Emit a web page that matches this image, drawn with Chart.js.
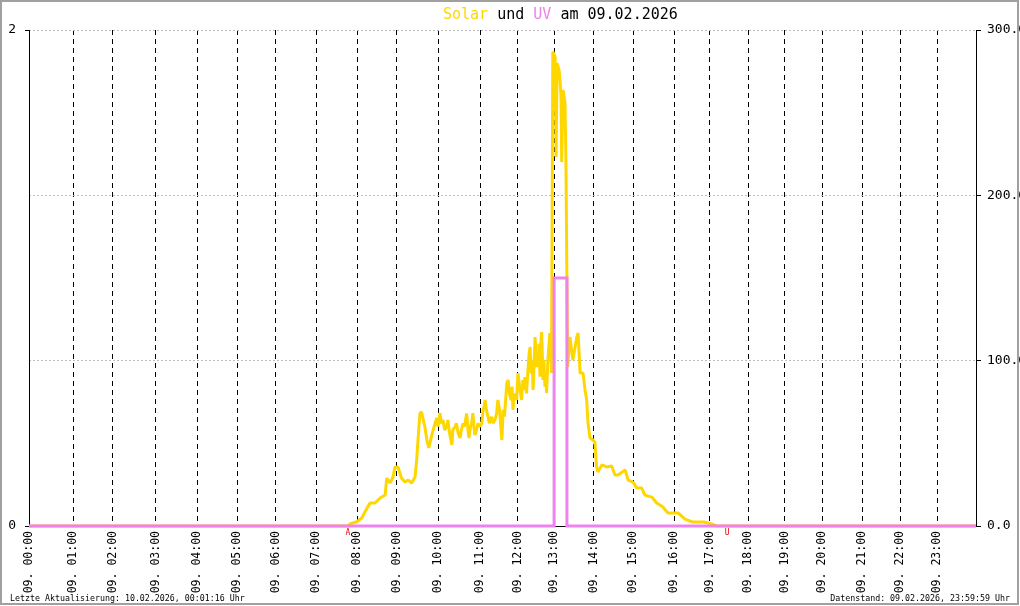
<!DOCTYPE html>
<html>
<head>
<meta charset="utf-8">
<script src="https://cdn.jsdelivr.net/npm/chart.js@4/dist/chart.umd.min.js"></script>
<style>
  html, body { margin: 0; padding: 0; background: #fff; }
  canvas { display: block; }
</style>
</head>
<body>
<canvas id="chart" width="1020" height="606"></canvas>
<script>
// Solar (W/m², rechte Achse) und UV-Index (linke Achse) vom 09.02.2026.
// Die x-Achse läuft über die Datensatznummer des Tages, nicht über die Uhrzeit:
// deshalb stehen die Stundenmarken nicht ganz gleichmäßig.
const recordCount = 288;

const hourLabels = [
    '09. 00:00', '09. 01:00', '09. 02:00', '09. 03:00', '09. 04:00', '09. 05:00',
    '09. 06:00', '09. 07:00', '09. 08:00', '09. 09:00', '09. 10:00', '09. 11:00',
    '09. 12:00', '09. 13:00', '09. 14:00', '09. 15:00', '09. 16:00', '09. 17:00',
    '09. 18:00', '09. 19:00', '09. 20:00', '09. 21:00', '09. 22:00', '09. 23:00'
];
const hourIdx = [
    0, 13.4, 25.5, 38.6, 51.1, 63.3, 75.1, 87.3, 99.8, 111.9, 124.4, 137.2,
    148.7, 159.7, 171.8, 183.8, 196.2, 207.1, 218.7, 229.9, 241.2, 253.4, 264.9, 276.2
];

const solarIdx = [
    0, 97.0, 97.6, 99.7, 101.2, 102.2, 103.7, 105.2, 106.8, 108.3, 108.8, 109.8,
    110.7, 111.3, 112.2, 113.3, 114.3, 115.3, 116.4, 117.4, 117.9, 118.3, 118.9, 119.4,
    120.4, 121.0, 121.6, 122.5, 123.5,
    124.0, 124.4, 125.0, 125.4, 125.9, 126.4, 127.0, 127.4, 127.9, 128.6, 128.9, 129.6,
    130.0, 130.5, 131.1, 131.5, 132.0, 132.4, 133.1, 133.5, 133.8, 134.3, 134.6, 135.0,
    135.3, 135.6, 136.1, 136.5, 137.2, 137.7, 138.1, 138.4, 138.7, 139.1, 139.6, 140.0,
    140.7, 141.1, 141.7, 142.2, 142.6, 143.1, 143.4, 143.8, 144.2, 144.6, 145.3, 145.7,
    146.1, 146.6, 146.9, 147.2, 147.6, 148.3, 148.7, 149.2, 149.5, 149.8, 150.2, 150.5,
    150.8, 151.3, 151.8, 152.1, 152.4, 152.7, 153.0, 153.3, 153.6, 153.9, 154.2, 154.5,
    154.8, 155.1, 155.4, 155.7, 155.9, 156.2, 156.3, 156.6, 156.9, 157.2, 157.4, 157.8,
    158.1, 158.4, 158.8, 158.9,
    159.3, 160.0, 160.3, 160.6, 161.2, 161.5, 161.8, 162.0, 162.4, 163.0, 163.3, 163.8,
    164.5, 165.4, 166.6, 167.0, 167.6, 168.5, 169.1, 169.6, 170.0, 170.6, 171.5, 172.1,
    172.6, 173.0, 174.2, 175.7, 177.2, 178.2, 179.1, 181.3, 182.2, 183.7, 184.8, 186.3,
    187.3, 189.4, 190.9, 192.8, 194.3, 197.4, 199.5, 201.9, 205.2, 207.6, 209.1, 288
];
const solarVal = [
    0, 0, 1.2, 2.6, 4.8, 8.6, 13.9, 13.9, 16.9, 18.7, 29.0, 26.0,
    29.6, 35.7, 35.7, 29.0, 26.6, 27.8, 26.0, 29.6, 39.9, 52.0, 68.3, 68.9,
    59.9, 52.0, 47.2, 55.0, 62.3,
    65.3, 60.1, 68.3, 62.1, 64.1, 58.1, 60.1, 64.1, 56.1, 49.0, 58.1, 60.1,
    62.1, 56.1, 53.2, 58.1, 62.1, 60.1, 68.1, 58.1, 53.2, 60.1, 62.1, 68.3,
    60.1, 55.0, 58.1, 62.1, 60.1, 62.1, 70.2, 72.2, 76.2, 70.2, 66.1, 62.1,
    66.1, 62.1, 64.1, 68.1, 76.2, 70.2, 62.1, 52.0, 70.2, 66.1, 86.3, 88.3,
    80.2, 76.2, 84.3, 70.2, 80.2, 76.2, 92.5, 84.3, 80.2, 76.2, 88.3, 82.3,
    90.1, 80.2, 96.2, 104.3, 108.3, 92.3, 100.4, 82.3, 96.2, 114.3, 104.3, 96.2,
    100.4, 110.3, 90.3, 112.3, 117.3, 98.3, 88.3, 100.4, 84.3, 92.3, 80.4, 100.4,
    108.3, 116.7, 100.4, 92.5,
    286.9, 283.8, 223.2, 280.0, 275.8, 269.7, 259.5, 220.1, 263.7, 256.4, 219.5, 96.2,
    114.3, 100.4, 114.3, 116.7, 92.5, 92.5, 82.3, 76.2, 62.3, 53.2, 52.0, 50.8,
    35.7, 32.7, 36.9, 35.7, 36.3, 30.8, 30.8, 33.9, 27.8, 26.6, 23.0, 23.0,
    18.7, 17.5, 13.9, 11.5, 7.9, 7.9, 4.2, 2.4, 2.4, 1.2, 0, 0
];

const uvIdx = [0, 159.7, 163.6, 288];
const uvVal = [0, 1, 0, 0];

// Sonnenaufgang (A) und -untergang (U)
const sunLabels = ['A', 'U'];
const sunIdx = [97.0, 212.3];

const GOLD = '#ffd700';
const VIOLET = '#ee82ee';
const MONO = '"DejaVu Sans Mono", monospace';

const decorations = {
    id: 'decorations',
    afterDraw(chart) {
        const ctx = chart.ctx;
        const x = chart.scales.x;
        ctx.save();

        // Titel in mehreren Farben
        const parts = [['Solar', GOLD], [' und ', '#000'], ['UV', VIOLET], [' am 09.02.2026', '#000']];
        ctx.font = '15px ' + MONO;
        ctx.textBaseline = 'alphabetic';
        ctx.textAlign = 'left';
        let tx = 443;
        parts.forEach(function (p) {
            ctx.fillStyle = p[1];
            ctx.fillText(p[0], tx, 19);
            tx += ctx.measureText(p[0]).width;
        });

        // Auf-/Untergang
        ctx.font = '8px ' + MONO;
        ctx.fillStyle = '#e00000';
        ctx.textAlign = 'center';
        sunLabels.forEach(function (l, i) {
            ctx.fillText(l, x.getPixelForValue(sunIdx[i]), chart.chartArea.bottom + 9);
        });

        // Fußzeile
        ctx.font = '8.3px ' + MONO;
        ctx.fillStyle = '#000';
        ctx.textAlign = 'left';
        ctx.fillText('Letzte Aktualisierung: 10.02.2026, 00:01:16 Uhr', 10, 601);
        ctx.textAlign = 'right';
        ctx.fillText('Datenstand: 09.02.2026, 23:59:59 Uhr', 1010, 601);

        // Rahmen
        ctx.strokeStyle = '#a0a0a0';
        ctx.lineWidth = 2;
        ctx.strokeRect(1, 1, 1017, 603);
        ctx.restore();
    }
};

new Chart(document.getElementById('chart'), {
    type: 'line',
    data: {
        datasets: [
            {
                label: 'UV',
                data: uvIdx.map(function (v, i) { return { x: v, y: uvVal[i] }; }),
                yAxisID: 'yUV',
                borderColor: VIOLET,
                borderWidth: 3,
                stepped: 'before',
                pointRadius: 0,
                clip: false
            },
            {
                label: 'Solar',
                data: solarIdx.map(function (v, i) { return { x: v, y: solarVal[i] }; }),
                yAxisID: 'ySolar',
                borderColor: GOLD,
                borderWidth: 3,
                borderJoinStyle: 'bevel',
                tension: 0,
                pointRadius: 0,
                clip: false
            }
        ]
    },
    options: {
        responsive: false,
        animation: false,
        devicePixelRatio: 1,
        layout: { padding: { top: 30, left: 0, right: 0, bottom: 0 } },
        plugins: { legend: { display: false }, title: { display: false }, tooltip: { enabled: false } },
        scales: {
            x: {
                type: 'linear',
                min: 0,
                max: recordCount,
                afterBuildTicks: function (s) { s.ticks = hourIdx.map(function (v) { return { value: v }; }); },
                afterFit: function (s) { s.height = 80; },
                ticks: {
                    autoSkip: false,
                    minRotation: 90,
                    maxRotation: 90,
                    padding: 5,
                    color: '#000',
                    font: { family: MONO, size: 11.5 },
                    callback: function (v, i) { return hourLabels[i]; }
                },
                grid: { color: '#000', lineWidth: 1, drawTicks: false },
                border: { display: true, color: '#000', width: 1, dash: [5, 4] }
            },
            yUV: {
                position: 'left',
                min: 0,
                max: 2,
                afterFit: function (s) { s.width = 29; },
                ticks: {
                    stepSize: 2,
                    padding: 9,
                    color: '#000',
                    font: { family: MONO, size: 13 },
                    callback: function (v) { return String(v); }
                },
                grid: { drawOnChartArea: false, tickLength: 4, tickColor: '#000' },
                border: { color: '#000', width: 1 }
            },
            ySolar: {
                position: 'right',
                min: 0,
                max: 300,
                afterFit: function (s) { s.width = 44; },
                ticks: {
                    stepSize: 100,
                    padding: 6,
                    color: '#000',
                    font: { family: MONO, size: 13 },
                    callback: function (v) { return v.toFixed(1); }
                },
                grid: { color: '#bbbbbb', tickLength: 5, tickColor: '#000', tickBorderDash: [] },
                border: { color: '#000', width: 1, dash: [2, 2] }
            }
        }
    },
    plugins: [decorations]
});
</script>
</body>
</html>
